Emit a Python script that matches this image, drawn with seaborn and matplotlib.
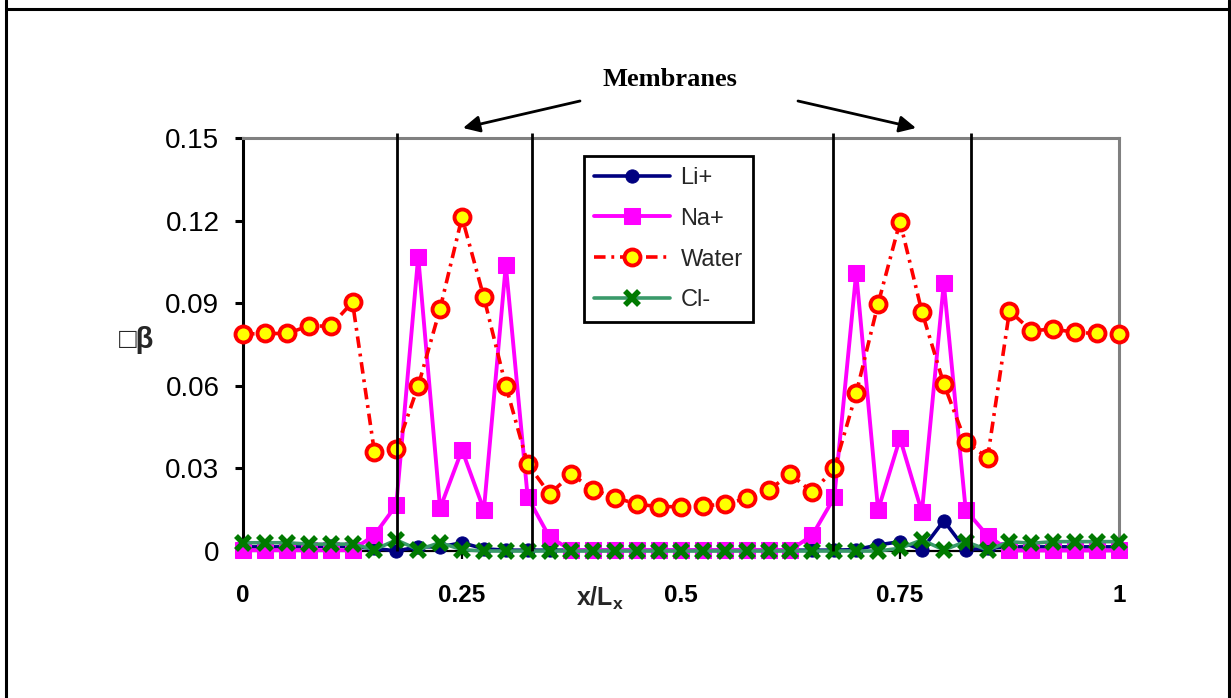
import numpy as np
import pandas as pd
import matplotlib
matplotlib.use("Agg")
import matplotlib.pyplot as plt
import seaborn as sns
from matplotlib.lines import Line2D

# ---------------- data ----------------
x_pos = [0.0, 0.025, 0.05, 0.075, 0.1, 0.125, 0.15, 0.175, 0.2, 0.225,
         0.25, 0.275, 0.3, 0.325, 0.35, 0.375, 0.4, 0.425, 0.45, 0.475,
         0.5, 0.525, 0.55, 0.575, 0.6, 0.625, 0.65, 0.675, 0.7, 0.725,
         0.75, 0.775, 0.8, 0.825, 0.85, 0.875, 0.9, 0.925, 0.95, 0.975, 1.0]

li = [0.0015, 0.0015, 0.0015, 0.0015, 0.0018, 0.0015, 0.001, 0.0, 0.0015, 0.0015,
      0.003, 0.0008, 0.0003, 0.0003, 0.0003, 0.0003, 0.0003, 0.0003, 0.0003, 0.0003,
      0.0003, 0.0003, 0.0003, 0.0003, 0.0003, 0.0003, 0.0003, 0.0003, 0.0005, 0.0022,
      0.0034, 0.0005, 0.011, 0.0005, 0.001, 0.0015, 0.0015, 0.0015, 0.0015, 0.0015, 0.0015]

na = [0.0003, 0.0003, 0.0003, 0.0003, 0.0003, 0.0003, 0.0058, 0.0167, 0.1069, 0.0155,
      0.0367, 0.0149, 0.1039, 0.0195, 0.005, 0.0003, 0.0003, 0.0003, 0.0003, 0.0003,
      0.0003, 0.0003, 0.0003, 0.0003, 0.0003, 0.0003, 0.0058, 0.0195, 0.1011, 0.0149,
      0.0409, 0.0141, 0.0973, 0.0149, 0.0055, 0.0002, 0.0002, 0.0002, 0.0002, 0.0002, 0.0002]

water = [0.0788, 0.079, 0.079, 0.0817, 0.0817, 0.0904, 0.036, 0.037, 0.060, 0.088,
         0.1212, 0.0921, 0.060, 0.0316, 0.0207, 0.0279, 0.0222, 0.0194, 0.017, 0.0161,
         0.0161, 0.0163, 0.0171, 0.0191, 0.0222, 0.0279, 0.0213, 0.030, 0.0573, 0.0898,
         0.1196, 0.0869, 0.0607, 0.0396, 0.0339, 0.0872, 0.080, 0.0806, 0.0794, 0.079, 0.0788]

cl = [0.003, 0.003, 0.003, 0.0025, 0.0025, 0.0025, 0.0005, 0.004, 0.0005, 0.003,
      0.0005, 0.0, 0.0, 0.0, 0.0, 0.0, 0.0, 0.0, 0.0, 0.0,
      0.0, 0.0, 0.0, 0.0, 0.0, 0.0, 0.0, 0.0, 0.0, 0.0,
      0.001, 0.004, 0.0004, 0.0034, 0.0004, 0.0034, 0.0028, 0.0034, 0.0034, 0.0034, 0.0034]

series_names = ["Li+", "Na+", "Water", "Cl-"]
x_ticks = [0, 0.25, 0.5, 0.75, 1]
x_tick_labels = ["0", "0.25", "0.5", "0.75", "1"]
y_ticks = [0, 0.03, 0.06, 0.09, 0.12, 0.15]
y_tick_labels = ["0", "0.03", "0.06", "0.09", "0.12", "0.15"]
membrane_x = [0.176, 0.33, 0.673, 0.831]

# ---------------- style ----------------
sns.set_style("white")
plt.rcParams["font.family"] = ["Liberation Sans", "DejaVu Sans"]
plt.rcParams["mathtext.fontset"] = "custom"
plt.rcParams["mathtext.rm"] = "Liberation Sans"
plt.rcParams["mathtext.it"] = "Liberation Sans:italic"
plt.rcParams["mathtext.bf"] = "Liberation Sans:bold"

W, H = 1231, 698
fig = plt.figure(figsize=(W / 100, H / 100), dpi=100)
fig.patch.set_facecolor("white")
ax = fig.add_axes([243 / W, 147 / H, 876 / W, 413 / H])
ax.set_facecolor("white")

common = dict(ax=ax, clip_on=False, sort=False)
sns.lineplot(x=x_pos, y=li, color="#000080", lw=2.6, marker="o", markersize=9.5,
             markerfacecolor="#000080", markeredgecolor="#000080", label=series_names[0],
             zorder=3, **common)
sns.lineplot(x=x_pos, y=na, color="#FF00FF", lw=2.8, marker="s", markersize=11,
             markerfacecolor="#FF00FF", markeredgecolor="#FF00FF", label=series_names[1],
             zorder=4, **common)
sns.lineplot(x=x_pos, y=water, color="#FF0000", lw=2.6, marker="o", markersize=11.5,
             markerfacecolor="#FFFF00", markeredgecolor="#FF0000", markeredgewidth=2.8,
             label=series_names[2], zorder=5, **common)
ax.lines[-1].set_dashes((3.2, 1.6, 0.8, 1.6))
sns.lineplot(x=x_pos, y=cl, color="#3A9A6A", lw=2.6, marker="x", markersize=10,
             markerfacecolor="#007A00", markeredgecolor="#007A00", markeredgewidth=4,
             label=series_names[3], zorder=6, **common)

# membrane lines
ax.vlines(membrane_x, 0, 0.1518, colors="black", lw=2, clip_on=False, zorder=7)

ax.set_xlim(0, 1)
ax.set_ylim(0, 0.15)
ax.set_xticks(x_ticks)
ax.set_xticklabels(x_tick_labels, fontweight="bold")
ax.set_yticks(y_ticks)
ax.set_yticklabels(y_tick_labels)
ax.set_xlabel("")
ax.set_ylabel("")

for s in ["left", "bottom"]:
    ax.spines[s].set_color("black")
ax.spines["left"].set_linewidth(2.2)
ax.spines["bottom"].set_linewidth(1.6)
for s in ["top", "right"]:
    ax.spines[s].set_color("#808080")
    ax.spines[s].set_linewidth(2.2)
    ax.spines[s].set_visible(True)

ax.tick_params(axis="y", direction="out", length=6, width=2.2, pad=11,
               labelsize=20, left=True, colors="black")
ax.tick_params(axis="x", direction="out", length=6, width=1.6, pad=18,
               labelsize=17.5, bottom=True, colors="black")

# legend
handles, labels = ax.get_legend_handles_labels()
leg = ax.legend(handles, labels, loc="upper left", bbox_to_anchor=(0.389, 0.956),
                borderaxespad=0, frameon=True, fancybox=False, edgecolor="black",
                framealpha=1, fontsize=17, handlelength=3.2, handletextpad=0.45,
                labelspacing=0.8, borderpad=0.45, numpoints=1)
leg.get_frame().set_linewidth(2)
leg.set_zorder(10)

# texts
fig.text(670 / W, 1 - 80 / H, "Membranes", ha="center", va="center",
         fontfamily="Liberation Serif", fontweight="bold", fontsize=19, color="black")
fig.text(137 / W, 1 - 340 / H, "\u25a1\u03b2", ha="center", va="center",
         fontsize=21, fontweight="bold")
fig.text(600 / W, 1 - 598 / H, r"x/L$_\mathbf{x}$", ha="center", va="center",
         fontsize=18, fontweight="bold")

# arrows
arrow_kw = dict(arrowstyle="-|>", color="black", lw=2, mutation_scale=25,
                shrinkA=0, shrinkB=0)
ax.annotate("", xy=(463, H - 128), xytext=(580, H - 101), xycoords="figure pixels",
            textcoords="figure pixels", arrowprops=arrow_kw, annotation_clip=False)
ax.annotate("", xy=(916, H - 128), xytext=(798, H - 101), xycoords="figure pixels",
            textcoords="figure pixels", arrowprops=arrow_kw, annotation_clip=False)

# outer frame
for xs, ys in [([6 / W, 6 / W], [0, 1]), ([1229 / W, 1229 / W], [0, 1]),
               ([6 / W, 1229 / W], [1 - 9 / H, 1 - 9 / H])]:
    fig.add_artist(Line2D(xs, ys, transform=fig.transFigure, color="black", lw=2.2))

fig.savefig("out.png", dpi=100)
